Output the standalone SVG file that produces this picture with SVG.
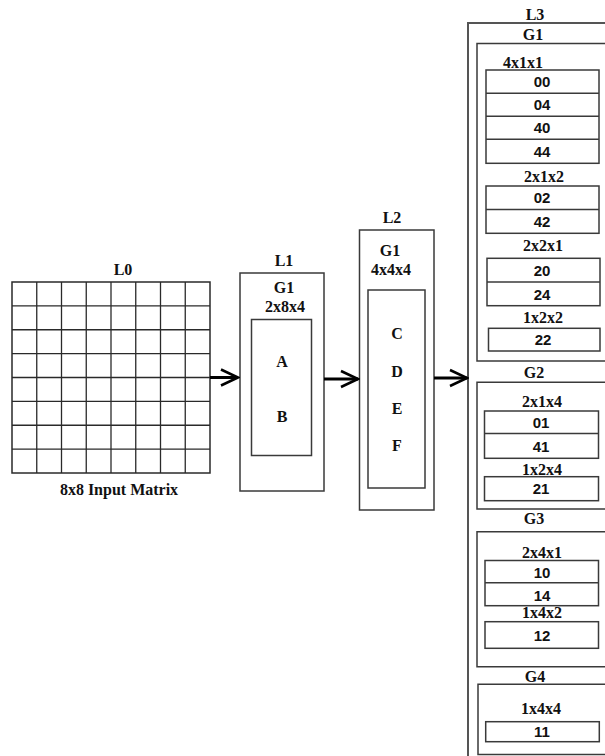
<svg xmlns="http://www.w3.org/2000/svg" width="605" height="756" viewBox="0 0 605 756">
<defs>
<style>
.bx{fill:none;stroke:#3a3a3a;stroke-width:1.5}
.ol{fill:none;stroke:#555;stroke-width:2}
.gl{stroke:#2a2a2a;stroke-width:1.3}
.lb{font-family:"Liberation Serif","Times New Roman",serif;font-weight:bold;font-size:16px;fill:#111;text-anchor:middle}
.nm{font-family:"Liberation Sans",Arial,sans-serif;font-weight:bold;font-size:15px;fill:#111;text-anchor:middle}
.ar{stroke:#000;stroke-width:3;fill:none}
</style>
<marker id="ah" markerUnits="userSpaceOnUse" markerWidth="22" markerHeight="22" viewBox="-20 -11 22 22" refX="0" refY="0" orient="auto">
<path d="M-17,-8 L0,0 L-17,8" fill="none" stroke="#000" stroke-width="2.5"/>
</marker>
</defs>
<rect width="605" height="756" fill="#fff"/>

<g id="L0">
<text class="lb" x="123" y="275">L0</text>
<rect x="12" y="282" width="198" height="191" fill="none" stroke="#2a2a2a" stroke-width="1.5"/>
<g class="gl">
<line x1="36.75" y1="282" x2="36.75" y2="473"/>
<line x1="61.5" y1="282" x2="61.5" y2="473"/>
<line x1="86.25" y1="282" x2="86.25" y2="473"/>
<line x1="111" y1="282" x2="111" y2="473"/>
<line x1="135.75" y1="282" x2="135.75" y2="473"/>
<line x1="160.5" y1="282" x2="160.5" y2="473"/>
<line x1="185.25" y1="282" x2="185.25" y2="473"/>
<line x1="12" y1="305.9" x2="210" y2="305.9"/>
<line x1="12" y1="329.75" x2="210" y2="329.75"/>
<line x1="12" y1="353.6" x2="210" y2="353.6"/>
<line x1="12" y1="377.5" x2="210" y2="377.5"/>
<line x1="12" y1="401.4" x2="210" y2="401.4"/>
<line x1="12" y1="425.25" x2="210" y2="425.25"/>
<line x1="12" y1="449.1" x2="210" y2="449.1"/>
</g>
<text class="lb" x="119" y="495">8x8 Input Matrix</text>
</g>

<g id="L1">
<text class="lb" x="284" y="266">L1</text>
<rect class="bx" x="240" y="273" width="84" height="218"/>
<text class="lb" x="284" y="293">G1</text>
<text class="lb" x="285" y="312">2x8x4</text>
<rect class="bx" x="251.5" y="319.5" width="60" height="136"/>
<text class="lb" x="282" y="367">A</text>
<text class="lb" x="282" y="422">B</text>
</g>

<g id="L2">
<text class="lb" x="392" y="223">L2</text>
<rect class="bx" x="359.5" y="230" width="74.5" height="280"/>
<text class="lb" x="390" y="256">G1</text>
<text class="lb" x="391" y="275">4x4x4</text>
<rect class="bx" x="368" y="290" width="57" height="198"/>
<text class="lb" x="397" y="339">C</text>
<text class="lb" x="397" y="377">D</text>
<text class="lb" x="397" y="414">E</text>
<text class="lb" x="397" y="451">F</text>
</g>

<g id="L3">
<text class="lb" x="535" y="20">L3</text>
<polyline class="ol" points="608,23 468,23 468,760"/>
</g>

<g id="L3-G1">
<text class="lb" x="533" y="40">G1</text>
<polyline class="bx" points="608,43.5 477,43.5 477,361 608,361"/>
<text class="lb" x="523" y="68">4x1x1</text>
<rect class="bx" x="486" y="70" width="113" height="93.3"/>
<line class="bx" x1="486" y1="93.3" x2="599" y2="93.3"/>
<line class="bx" x1="486" y1="116.3" x2="599" y2="116.3"/>
<line class="bx" x1="486" y1="139.3" x2="599" y2="139.3"/>
<text class="nm" x="542" y="87">00</text>
<text class="nm" x="542" y="110">04</text>
<text class="nm" x="542" y="133">40</text>
<text class="nm" x="542" y="156.5">44</text>
<text class="lb" x="544" y="182">2x1x2</text>
<rect class="bx" x="486" y="186" width="113" height="47.3"/>
<line class="bx" x1="486" y1="209.5" x2="599" y2="209.5"/>
<text class="nm" x="542" y="203">02</text>
<text class="nm" x="542" y="226.8">42</text>
<text class="lb" x="543" y="251">2x2x1</text>
<rect class="bx" x="487" y="258.3" width="113" height="47.4"/>
<line class="bx" x1="487" y1="282" x2="600" y2="282"/>
<text class="nm" x="542" y="275.5">20</text>
<text class="nm" x="542" y="299.5">24</text>
<text class="lb" x="543" y="323">1x2x2</text>
<rect class="bx" x="488.5" y="328.3" width="111.5" height="22.7"/>
<text class="nm" x="543" y="345">22</text>
</g>

<g id="L3-G2">
<text class="lb" x="534" y="378">G2</text>
<polyline class="bx" points="608,382.3 477,382.3 477,509 608,509"/>
<text class="lb" x="542" y="407">2x1x4</text>
<rect class="bx" x="484.5" y="411" width="114" height="47.3"/>
<line class="bx" x1="484.5" y1="433.5" x2="598.5" y2="433.5"/>
<text class="nm" x="541" y="427.5">01</text>
<text class="nm" x="541" y="451.5">41</text>
<text class="lb" x="542" y="475">1x2x4</text>
<rect class="bx" x="484.5" y="476.7" width="114" height="24"/>
<text class="nm" x="541" y="494">21</text>
</g>

<g id="L3-G3">
<text class="lb" x="534" y="524">G3</text>
<polyline class="bx" points="608,531.7 477,531.7 477,666.7 608,666.7"/>
<text class="lb" x="542" y="558">2x4x1</text>
<rect class="bx" x="485" y="560.5" width="113.5" height="45.2"/>
<line class="bx" x1="485" y1="582.7" x2="598.5" y2="582.7"/>
<text class="nm" x="542" y="578">10</text>
<text class="nm" x="542" y="601">14</text>
<text class="lb" x="542" y="618">1x4x2</text>
<rect class="bx" x="485" y="621.7" width="113.5" height="26.6"/>
<text class="nm" x="542" y="640.5">12</text>
</g>

<g id="L3-G4">
<text class="lb" x="535" y="682">G4</text>
<polyline class="bx" points="608,684.3 478,684.3 478,754.5 608,754.5"/>
<text class="lb" x="541" y="714">1x4x4</text>
<rect class="bx" x="485.7" y="721.7" width="113.6" height="20"/>
<text class="nm" x="542" y="737">11</text>
</g>

<g id="connectors">
<line class="ar" x1="210" y1="377.5" x2="238" y2="377.5" marker-end="url(#ah)"/>
<line class="ar" x1="324" y1="379" x2="358" y2="379" marker-end="url(#ah)"/>
<line class="ar" x1="434" y1="378" x2="467" y2="378" marker-end="url(#ah)"/>
</g>
</svg>
